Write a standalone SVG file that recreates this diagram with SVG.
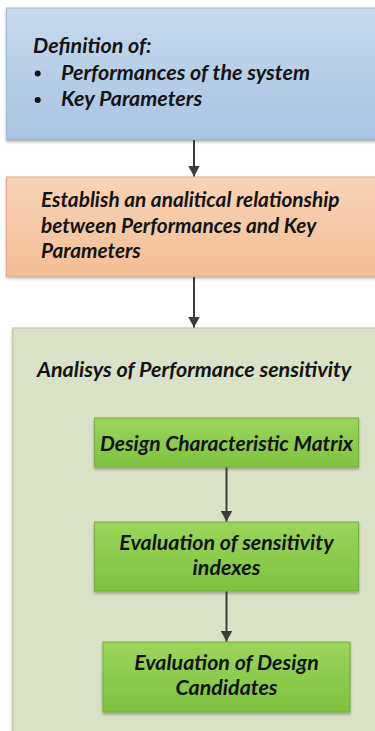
<svg xmlns="http://www.w3.org/2000/svg" width="375" height="731" viewBox="0 0 375 731">
  <style>
    .t { font-family: Lato, "Liberation Sans", sans-serif; font-weight: bold; font-style: italic; fill: #141414; }
    .c { text-anchor: middle; }
    .box { stroke-width: 1; }
    .conn { stroke: #3c3c3c; stroke-width: 2; fill: none; }
  </style>
  <defs>
    <linearGradient id="gBlue" x1="0" y1="0" x2="0" y2="1">
      <stop offset="0" stop-color="#c8daec"/>
      <stop offset="1" stop-color="#a8c3e1"/>
    </linearGradient>
    <linearGradient id="gOrange" x1="0" y1="0" x2="0" y2="1">
      <stop offset="0" stop-color="#f9d3b5"/>
      <stop offset="1" stop-color="#f3be96"/>
    </linearGradient>
    <linearGradient id="gGreen" x1="0" y1="0" x2="0" y2="1">
      <stop offset="0" stop-color="#9ad65c"/>
      <stop offset="1" stop-color="#7dc23f"/>
    </linearGradient>
    <filter id="shadow" x="-5%" y="-5%" width="110%" height="115%">
      <feGaussianBlur in="SourceAlpha" stdDeviation="1.5"/>
      <feOffset dy="1.5"/>
      <feComponentTransfer><feFuncA type="linear" slope="0.3"/></feComponentTransfer>
      <feMerge><feMergeNode/><feMergeNode in="SourceGraphic"/></feMerge>
    </filter>
    <marker id="arrow" markerWidth="6" markerHeight="6" refX="5.5" refY="3" orient="auto" markerUnits="strokeWidth">
      <path d="M0,0 L5.5,3 L0,6 Z" fill="#3c3c3c"/>
    </marker>
  </defs>

  <rect width="375" height="731" fill="#ffffff"/>

  <!-- step 1: definitions -->
  <g id="definition">
    <rect class="box" x="6.5" y="8" width="372" height="131.5" fill="url(#gBlue)" stroke="#9fb8d4" filter="url(#shadow)"/>
    <text class="t" x="33" y="52.5" font-size="21.5">Definition of:</text>
    <circle cx="37.7" cy="73.5" r="3" fill="#141414"/>
    <text class="t" x="61" y="79.5" font-size="21.5">Performances of the system</text>
    <circle cx="37.7" cy="100" r="3" fill="#141414"/>
    <text class="t" x="61" y="106" font-size="21.5">Key Parameters</text>
  </g>

  <!-- step 2: analytical relationship -->
  <g id="relationship">
    <rect class="box" x="6.5" y="177" width="372" height="99" fill="url(#gOrange)" stroke="#e0ab86" filter="url(#shadow)"/>
    <text class="t" x="41" y="206.5" font-size="20.8">Establish an analitical relationship</text>
    <text class="t" x="41" y="232.5" font-size="20.8">between Performances and Key</text>
    <text class="t" x="41" y="258.3" font-size="20.8">Parameters</text>
  </g>

  <!-- step 3: sensitivity analysis container -->
  <g id="sensitivity">
    <rect class="box" x="12.7" y="328" width="366" height="410" fill="#d9e1c7" stroke="#b9c2a6" filter="url(#shadow)"/>
    <text class="t" x="37" y="377" font-size="21.5">Analisys of Performance sensitivity</text>
  </g>

  <g id="matrix">
    <rect class="box" x="94.5" y="418" width="264" height="49" fill="url(#gGreen)" stroke="#74ad3f" filter="url(#shadow)"/>
    <text class="t c" x="226.5" y="451" font-size="21">Design Characteristic Matrix</text>
  </g>

  <g id="indexes">
    <rect class="box" x="94.5" y="522" width="264" height="69" fill="url(#gGreen)" stroke="#74ad3f" filter="url(#shadow)"/>
    <text class="t c" x="226.5" y="550" font-size="21.4">Evaluation of sensitivity</text>
    <text class="t c" x="226.5" y="575" font-size="21.4">indexes</text>
  </g>

  <g id="candidates">
    <rect class="box" x="103" y="642" width="247" height="70" fill="url(#gGreen)" stroke="#74ad3f" filter="url(#shadow)"/>
    <text class="t c" x="226.5" y="670" font-size="21.4">Evaluation of Design</text>
    <text class="t c" x="226.5" y="695" font-size="21.4">Candidates</text>
  </g>

  <!-- connectors -->
  <g id="connectors">
    <line class="conn" x1="194" y1="140" x2="194" y2="176.5" marker-end="url(#arrow)"/>
    <line class="conn" x1="194" y1="277" x2="194" y2="327.5" marker-end="url(#arrow)"/>
    <line class="conn" x1="226.5" y1="467.5" x2="226.5" y2="521.5" marker-end="url(#arrow)"/>
    <line class="conn" x1="226.5" y1="591.5" x2="226.5" y2="641.5" marker-end="url(#arrow)"/>
  </g>
</svg>
